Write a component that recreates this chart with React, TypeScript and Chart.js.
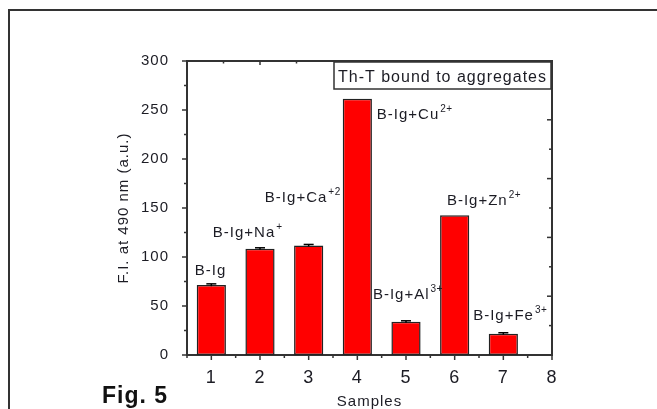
import { useEffect, useRef } from 'react';
import { Chart, registerables } from 'chart.js';

Chart.register(...registerables);

// ---- data ----
const samples = [1, 2, 3, 4, 5, 6, 7];
const intensity = [71.4, 108.4, 111.8, 261.5, 33.9, 142.5, 21.7];
const errors = [1.2, 1, 1, 0, 1, 0, 1];
const yTicks = [0, 50, 100, 150, 200, 250, 300];
const xTicks = [1, 2, 3, 4, 5, 6, 7, 8];
const labelBase = ['B-Ig', 'B-Ig+Na', 'B-Ig+Ca', 'B-Ig+Cu', 'B-Ig+Al', 'B-Ig+Zn', 'B-Ig+Fe'];
const labelSup = ['', '+', '+2', '2+', '3+', '2+', '3+'];
// annotation anchors (data units: left edge / baseline of each label)
const labelAnchorX = [0.66, 1.03, 2.1, 4.4, 4.32, 5.84, 6.38];
const labelAnchorY = [81.5, 120.3, 156, 240.6, 57.1, 152.9, 35.7];
const legendText = 'Th-T bound to aggregates';
const figureText = 'Fig. 5';
const xTitle = 'Samples';
const yTitle = 'F.I. at 490 nm (a.u.)';

const FONT = "'Liberation Sans', Arial, sans-serif";
const NARROW = "'Liberation Sans Narrow', 'Liberation Sans', Arial, sans-serif";
const INK = '#1c1c24';
const AXIS = '#333';

const decor = {
  id: 'decor',
  beforeDraw(chart: any) {
    chart.ctx.letterSpacing = '1px';
  },
  afterDatasetsDraw(chart: any) {
    const { ctx, scales, chartArea } = chart;
    const x = scales.x;
    const y = scales.y;
    const x2 = scales.x2;
    const y2 = scales.y2;
    const seg = (a: number, b: number, c: number, d: number) => {
      ctx.beginPath();
      ctx.moveTo(a, b);
      ctx.lineTo(c, d);
      ctx.stroke();
    };
    ctx.save();
    ctx.strokeStyle = AXIS;
    ctx.lineWidth = 1.5;

    // error bars
    ctx.strokeStyle = '#000';
    samples.forEach((s, i) => {
      const e = errors[i];
      if (!e) return;
      const px = x.getPixelForValue(s);
      const top = y.getPixelForValue(intensity[i] + e);
      const bot = y.getPixelForValue(intensity[i] - e);
      seg(px, top, px, bot);
      seg(px - 5, top, px + 5, top);
    });

    ctx.strokeStyle = AXIS;
    // left axis ticks (outward)
    for (let i = 0; i < yTicks.length; i++) {
      const py = y.getPixelForValue(yTicks[i]);
      seg(chartArea.left - 5, py, chartArea.left, py);
      if (i < yTicks.length - 1) {
        const pm = y.getPixelForValue((yTicks[i] + yTicks[i + 1]) / 2);
        seg(chartArea.left - 3, pm, chartArea.left, pm);
      }
    }
    // bottom axis ticks (outward)
    for (let i = 0; i < xTicks.length; i++) {
      const px = x.getPixelForValue(xTicks[i]);
      seg(px, chartArea.bottom, px, chartArea.bottom + 5);
      const pm = x.getPixelForValue(xTicks[i] - 0.5);
      seg(pm, chartArea.bottom, pm, chartArea.bottom + 3);
    }

    // legend box geometry
    const bw = 217;
    const bh = 27;
    const bx = chartArea.right - bw - 1;
    const by = chartArea.top + 1;

    // top axis ticks (inward)
    for (let v = 1; v < 10; v++) {
      const px = x2.getPixelForValue(v);
      if (px > bx - 2) continue;
      const len = v % 2 === 0 ? 4 : 2.5;
      seg(px, chartArea.top, px, chartArea.top + len);
    }
    // right axis ticks (inward)
    for (let v = 1; v < 10; v++) {
      const py = y2.getPixelForValue(v);
      if (py < by + bh + 3) continue;
      const len = v % 2 === 0 ? 5 : 3;
      seg(chartArea.right, py, chartArea.right - len, py);
    }

    // legend box
    ctx.fillStyle = '#fff';
    ctx.fillRect(bx, by, bw, bh);
    ctx.lineWidth = 1.5;
    ctx.strokeRect(bx, by, bw, bh);
    ctx.fillStyle = INK;
    ctx.font = `16px ${FONT}`;
    ctx.letterSpacing = '1px';
    ctx.textAlign = 'left';
    ctx.textBaseline = 'alphabetic';
    ctx.fillText(legendText, bx + 4, by + 20);

    // bar labels
    for (let i = 0; i < labelBase.length; i++) {
      const px = x.getPixelForValue(labelAnchorX[i]);
      const py = y.getPixelForValue(labelAnchorY[i]);
      ctx.font = `15px ${FONT}`;
      ctx.letterSpacing = '1px';
      ctx.fillText(labelBase[i], px, py);
      const w = ctx.measureText(labelBase[i]).width;
      if (labelSup[i]) {
        ctx.font = `10px ${FONT}`;
        ctx.letterSpacing = '0.5px';
        ctx.fillText(labelSup[i], px + w + 1, py - 7);
      }
    }

    // figure label
    ctx.font = `bold 23px ${FONT}`;
    ctx.letterSpacing = '1px';
    ctx.fillStyle = '#111';
    ctx.fillText(figureText, 102, 403);

    ctx.restore();
  },
  afterDraw(chart: any) {
    chart.ctx.letterSpacing = '0px';
  },
};

export default function App() {
  const ref = useRef<HTMLCanvasElement | null>(null);

  useEffect(() => {
    if (!ref.current) return;
    const chart = new Chart(ref.current, {
      type: 'bar',
      data: {
        datasets: [
          {
            data: samples.map((s, i) => ({ x: s, y: intensity[i] })),
            backgroundColor: '#ff0000',
            borderColor: '#222',
            borderWidth: 1.5,
            borderSkipped: false,
            barPercentage: 0.6,
            categoryPercentage: 1,
            xAxisID: 'x',
            yAxisID: 'y',
          } as any,
        ],
      },
      options: {
        animation: false,
        responsive: false,
        devicePixelRatio: 1,
        layout: { padding: { left: 100, top: 61, right: 105, bottom: 0 } },
        plugins: { legend: { display: false }, tooltip: { enabled: false } },
        scales: {
          x: {
            type: 'linear',
            position: 'bottom',
            offset: false,
            min: 0.5,
            max: 8,
            afterBuildTicks: (s: any) => {
              s.ticks = xTicks.map((v) => ({ value: v }));
            },
            ticks: {
              font: { family: NARROW, size: 18 },
              color: INK,
              padding: 4,
              autoSkip: false,
              maxRotation: 0,
              callback: (v: any) => String(v),
            },
            grid: { display: false, offset: false },
            border: { display: true, color: AXIS, width: 2 },
            title: {
              display: true,
              text: xTitle,
              font: { family: FONT, size: 15, lineHeight: 1 },
              padding: { top: 0, bottom: 0 },
              color: INK,
            },
            afterFit: (s: any) => {
              s.height = 54;
            },
          },
          y: {
            type: 'linear',
            position: 'left',
            min: 0,
            max: 300,
            afterBuildTicks: (s: any) => {
              s.ticks = yTicks.map((v) => ({ value: v }));
            },
            ticks: {
              font: { family: FONT, size: 15 },
              color: INK,
              padding: 10,
              callback: (v: any) => String(v),
            },
            grid: { display: false },
            border: { display: true, color: AXIS, width: 2 },
            title: {
              display: true,
              text: yTitle,
              font: { family: FONT, size: 15, lineHeight: 1.2 },
              padding: { top: 15, bottom: 0 },
              color: INK,
            },
            afterFit: (s: any) => {
              s.width = 87;
            },
          },
          x2: {
            type: 'linear',
            position: 'top',
            offset: false,
            min: 0,
            max: 10,
            ticks: { display: false },
            grid: { display: false },
            border: { display: true, color: AXIS, width: 2 },
            afterFit: (s: any) => {
              s.height = 0;
            },
          },
          y2: {
            type: 'linear',
            position: 'right',
            min: 0,
            max: 10,
            ticks: { display: false },
            grid: { display: false },
            border: { display: true, color: AXIS, width: 2 },
            afterFit: (s: any) => {
              s.width = 0;
            },
          },
        },
      } as any,
      plugins: [decor],
    });
    return () => chart.destroy();
  }, []);

  return (
    <div>
      <div
        style={{
          position: 'fixed',
          left: 8,
          top: 9,
          width: 760,
          height: 520,
          border: `2px solid ${AXIS}`,
          boxSizing: 'border-box',
        }}
      />
      <canvas
        ref={ref}
        width={657}
        height={409}
        style={{ position: 'fixed', left: 0, top: 0, width: 657, height: 409 }}
      />
    </div>
  );
}
